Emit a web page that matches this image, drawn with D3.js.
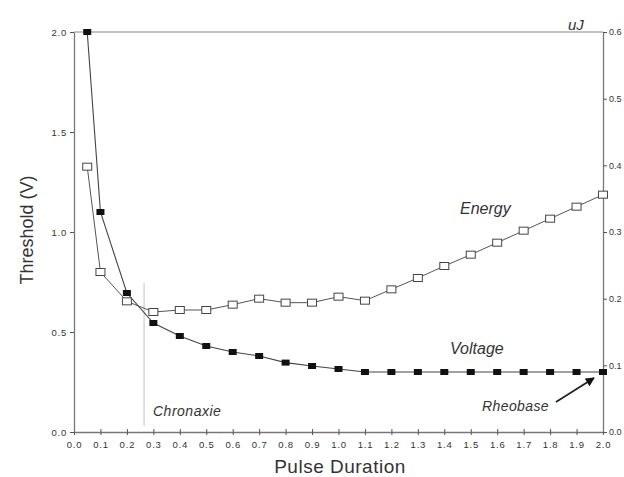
<!DOCTYPE html>
<html><head><meta charset="utf-8">
<script src="https://cdn.jsdelivr.net/npm/d3@7"></script>
<style>
body{margin:0;background:#fff;}
svg{font-family:"Liberation Sans",Arial,sans-serif;}
</style></head>
<body><svg id="c" width="624" height="477"></svg>
<script>
const durations = [0.05,0.1,0.2,0.3,0.4,0.5,0.6,0.7,0.8,0.9,1.0,1.1,1.2,1.3,1.4,1.5,1.6,1.7,1.8,1.9,2.0];
const voltage = [2.0,1.10,0.695,0.545,0.48,0.43,0.40,0.38,0.347,0.33,0.315,0.30,0.30,0.30,0.30,0.30,0.30,0.30,0.30,0.30,0.30];
const energy = [0.398,0.240,0.196,0.180,0.183,0.183,0.191,0.200,0.194,0.194,0.203,0.197,0.214,0.231,0.249,0.266,0.284,0.302,0.320,0.338,0.356];
const xTicks = d3.range(0,21).map(i=>i/10);
const yLeftTicks = [0,0.5,1.0,1.5,2.0];
const yRightTicks = [0,0.1,0.2,0.3,0.4,0.5,0.6];
const chronaxie = 0.265;

const svg = d3.select("#c");
const x = d3.scaleLinear().domain([0,2]).range([74,603]);
const yL = d3.scaleLinear().domain([0,2]).range([432,32]);
const yR = d3.scaleLinear().domain([0,0.6]).range([432,32]);
const ink = "#333";

// frame top line
svg.append("line").attr("x1",x(0)).attr("x2",x(2)).attr("y1",yL(2)).attr("y2",yL(2)).attr("stroke","#888").attr("stroke-width",1.2);

const gx = svg.append("g").attr("transform","translate(0,432)")
  .call(d3.axisBottom(x).tickValues(xTicks).tickFormat(d3.format(".1f")).tickSizeInner(3).tickSizeOuter(0));
const gl = svg.append("g").attr("transform","translate(74,0)")
  .call(d3.axisLeft(yL).tickValues(yLeftTicks).tickFormat(d3.format(".1f")).tickSize(4).tickSizeOuter(0));
const gr = svg.append("g").attr("transform","translate(603,0)")
  .call(d3.axisRight(yR).tickValues(yRightTicks).tickFormat(d3.format(".1f")).tickSize(4).tickPadding(2).tickSizeOuter(0));
[gx,gl,gr].forEach(g=>{
  g.select(".domain").attr("stroke","#777").attr("stroke-width",1.3);
  g.selectAll(".tick line").attr("stroke","#555");
  g.selectAll(".tick text").attr("fill",ink).attr("font-size",9.5).attr("letter-spacing",0.8);
});
gr.selectAll(".tick text").attr("letter-spacing",0).attr("font-size",9);
gx.selectAll(".tick text").attr("dy","1.0em");
gx.selectAll(".tick line").attr("y1",-3).attr("y2",3);

// chronaxie line
svg.append("line").attr("x1",x(chronaxie)).attr("x2",x(chronaxie))
  .attr("y1",yL(0.745)).attr("y2",yL(0.03)).attr("stroke","#ccc").attr("stroke-width",1.2);

// lines
const lineV = d3.line().x((d,i)=>x(durations[i])).y(d=>yL(d));
const lineE = d3.line().x((d,i)=>x(durations[i])).y(d=>yR(d));
svg.append("path").attr("d",lineE(energy)).attr("fill","none").attr("stroke","#555").attr("stroke-width",1);
svg.append("path").attr("d",lineV(voltage)).attr("fill","none").attr("stroke","#444").attr("stroke-width",1.1);

// markers
svg.selectAll(".e").data(energy).join("rect")
  .attr("x",(d,i)=>x(durations[i])-4.5).attr("y",d=>yR(d)-3.5)
  .attr("width",9).attr("height",7).attr("fill","#fff").attr("stroke","#444").attr("stroke-width",1);
svg.selectAll(".v").data(voltage).join("rect")
  .attr("x",(d,i)=>x(durations[i])-4).attr("y",d=>yL(d)-3)
  .attr("width",8).attr("height",6).attr("fill","#111");

// labels
svg.append("text").attr("x",460).attr("y",214).attr("font-size",16).attr("font-style","italic").attr("fill",ink).text("Energy");
svg.append("text").attr("x",450).attr("y",354).attr("font-size",16).attr("font-style","italic").attr("fill",ink).text("Voltage");
svg.append("text").attr("x",568).attr("y",30).attr("font-size",15).attr("font-style","italic").attr("fill",ink).text("uJ");
svg.append("text").attr("x",153).attr("y",416).attr("font-size",14).attr("letter-spacing",0.5).attr("font-style","italic").attr("fill",ink).text("Chronaxie");
svg.append("text").attr("x",482).attr("y",411).attr("font-size",14).attr("letter-spacing",0.4).attr("font-style","italic").attr("fill",ink).text("Rheobase");

// arrow
svg.append("defs").append("marker").attr("id","ah").attr("viewBox","0 0 10 10").attr("refX",9).attr("refY",5)
  .attr("markerWidth",7).attr("markerHeight",5).attr("orient","auto").attr("markerUnits","strokeWidth")
  .append("path").attr("d","M0,0L10,5L0,10z").attr("fill","#111");
svg.append("line").attr("x1",556).attr("y1",402).attr("x2",594).attr("y2",378).attr("stroke","#222").attr("stroke-width",1.8).attr("marker-end","url(#ah)");

// axis titles
svg.append("text").attr("x",340).attr("y",473).attr("text-anchor","middle").attr("font-size",19).attr("letter-spacing",0.5).attr("fill",ink).text("Pulse Duration");
svg.append("text").attr("transform","translate(33,230) rotate(-90)").attr("text-anchor","middle").attr("font-size",18).attr("fill",ink).text("Threshold (V)");
</script></body></html>
